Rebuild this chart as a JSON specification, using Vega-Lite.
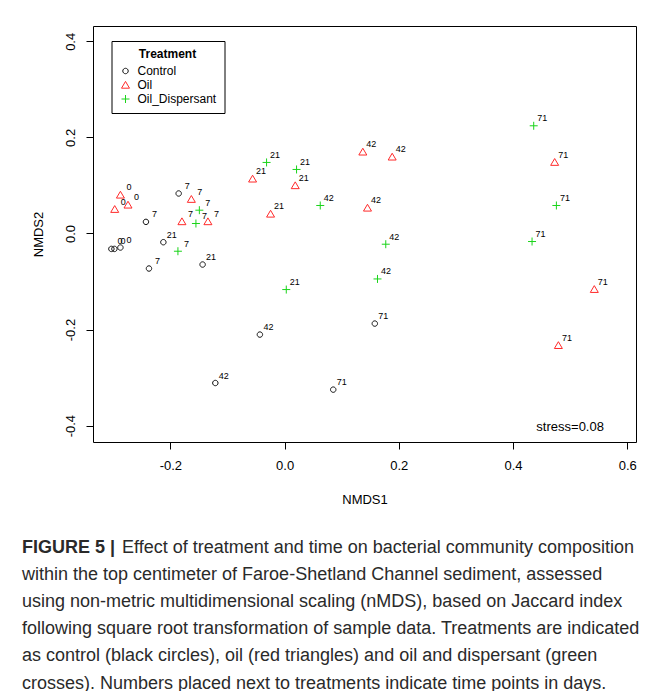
{
  "$schema": "https://vega.github.io/schema/vega-lite/v6.json",
  "width": 543,
  "height": 416,
  "autosize": {"type": "none"},
  "padding": {"left": 93, "top": 26, "right": 18, "bottom": 249},
  "background": "white",
  "config": {
    "view": {"stroke": "#000", "strokeWidth": 1},
    "font": "Liberation Sans",
    "axis": {
      "domain": false, "grid": false, "tickColor": "#000", "tickSize": 7, "tickWidth": 1,
      "labelColor": "#000", "labelFont": "Liberation Sans", "labelFontSize": 13,
      "titleColor": "#000", "titleFont": "Liberation Sans", "titleFontSize": 13, "titleFontWeight": "normal"
    }
  },
  "title": {
    "text": "FIGURE 5 |",
    "subtitle": [
      "\u200b\u00a0\u00a0\u00a0\u00a0\u00a0\u00a0\u00a0\u00a0\u00a0\u00a0\u00a0\u00a0\u00a0\u00a0\u00a0\u00a0\u00a0\u00a0\u00a0\u00a0Effect of treatment and time on bacterial community composition",
      "within the top centimeter of Faroe-Shetland Channel sediment, assessed",
      "using non-metric multidimensional scaling (nMDS), based on Jaccard index",
      "following square root transformation of sample data. Treatments are indicated",
      "as control (black circles), oil (red triangles) and oil and dispersant (green",
      "crosses). Numbers placed next to treatments indicate time points in days."
    ],
    "orient": "bottom",
    "anchor": "start",
    "frame": "group",
    "dx": -71,
    "offset": 33,
    "font": "Liberation Sans",
    "fontSize": 18,
    "fontWeight": "bold",
    "color": "#2a2a2a",
    "subtitleFont": "Liberation Sans",
    "subtitleFontSize": 18,
    "subtitleFontWeight": "normal",
    "subtitleColor": "#2a2a2a",
    "subtitleLineHeight": 27.1,
    "subtitlePadding": -18
  },
  "datasets": {
    "pts": [
      {"treatment": "Control", "day": "0", "NMDS1": -0.3032, "NMDS2": -0.0321},
      {"treatment": "Control", "day": "0", "NMDS1": -0.2979, "NMDS2": -0.0321},
      {"treatment": "Control", "day": "0", "NMDS1": -0.2874, "NMDS2": -0.0292},
      {"treatment": "Control", "day": "7", "NMDS1": -0.1854, "NMDS2": 0.0833},
      {"treatment": "Control", "day": "7", "NMDS1": -0.2427, "NMDS2": 0.0242},
      {"treatment": "Control", "day": "7", "NMDS1": -0.2374, "NMDS2": -0.0729},
      {"treatment": "Control", "day": "21", "NMDS1": -0.2122, "NMDS2": -0.0181},
      {"treatment": "Control", "day": "21", "NMDS1": -0.1435, "NMDS2": -0.0646},
      {"treatment": "Control", "day": "42", "NMDS1": -0.1212, "NMDS2": -0.3112},
      {"treatment": "Control", "day": "42", "NMDS1": -0.0432, "NMDS2": -0.2104},
      {"treatment": "Control", "day": "71", "NMDS1": 0.158, "NMDS2": -0.1875},
      {"treatment": "Control", "day": "71", "NMDS1": 0.0852, "NMDS2": -0.325},
      {"treatment": "Oil", "day": "0", "NMDS1": -0.2874, "NMDS2": 0.0804},
      {"treatment": "Oil", "day": "0", "NMDS1": -0.2974, "NMDS2": 0.0506},
      {"treatment": "Oil", "day": "0", "NMDS1": -0.2741, "NMDS2": 0.0596},
      {"treatment": "Oil", "day": "7", "NMDS1": -0.1632, "NMDS2": 0.0715},
      {"treatment": "Oil", "day": "7", "NMDS1": -0.1797, "NMDS2": 0.025},
      {"treatment": "Oil", "day": "7", "NMDS1": -0.1342, "NMDS2": 0.025},
      {"treatment": "Oil", "day": "21", "NMDS1": -0.056, "NMDS2": 0.1138},
      {"treatment": "Oil", "day": "21", "NMDS1": 0.0187, "NMDS2": 0.1},
      {"treatment": "Oil", "day": "21", "NMDS1": -0.0245, "NMDS2": 0.0408},
      {"treatment": "Oil", "day": "42", "NMDS1": 0.137, "NMDS2": 0.17},
      {"treatment": "Oil", "day": "42", "NMDS1": 0.1884, "NMDS2": 0.1596},
      {"treatment": "Oil", "day": "42", "NMDS1": 0.1452, "NMDS2": 0.0533},
      {"treatment": "Oil", "day": "71", "NMDS1": 0.4729, "NMDS2": 0.1485},
      {"treatment": "Oil", "day": "71", "NMDS1": 0.5423, "NMDS2": -0.116},
      {"treatment": "Oil", "day": "71", "NMDS1": 0.4794, "NMDS2": -0.2327},
      {"treatment": "Oil_Dispersant", "day": "7", "NMDS1": -0.1492, "NMDS2": 0.0485},
      {"treatment": "Oil_Dispersant", "day": "7", "NMDS1": -0.1552, "NMDS2": 0.0208},
      {"treatment": "Oil_Dispersant", "day": "7", "NMDS1": -0.1867, "NMDS2": -0.0369},
      {"treatment": "Oil_Dispersant", "day": "21", "NMDS1": -0.0315, "NMDS2": 0.1479},
      {"treatment": "Oil_Dispersant", "day": "21", "NMDS1": 0.021, "NMDS2": 0.1333},
      {"treatment": "Oil_Dispersant", "day": "21", "NMDS1": 0.003, "NMDS2": -0.1167},
      {"treatment": "Oil_Dispersant", "day": "42", "NMDS1": 0.0625, "NMDS2": 0.0583},
      {"treatment": "Oil_Dispersant", "day": "42", "NMDS1": 0.1772, "NMDS2": -0.0223},
      {"treatment": "Oil_Dispersant", "day": "42", "NMDS1": 0.1627, "NMDS2": -0.0946},
      {"treatment": "Oil_Dispersant", "day": "71", "NMDS1": 0.4362, "NMDS2": 0.2242},
      {"treatment": "Oil_Dispersant", "day": "71", "NMDS1": 0.4759, "NMDS2": 0.0583},
      {"treatment": "Oil_Dispersant", "day": "71", "NMDS1": 0.4333, "NMDS2": -0.0167}
    ],
    "note": [{"NMDS1": 0.5, "NMDS2": -0.403, "label": "stress=0.08"}]
  },
  "encoding": {
    "x": {
      "field": "NMDS1", "type": "quantitative", "title": "NMDS1",
      "scale": {"domain": [-0.3354, 0.6153], "nice": false, "zero": false},
      "axis": {"values": [-0.2, 0, 0.2, 0.4, 0.6], "labelExpr": "replace(format(datum.value, '.1f'), '\u2212', '-')", "labelPadding": 10, "titlePadding": 21}
    },
    "y": {
      "field": "NMDS2", "type": "quantitative", "title": "NMDS2",
      "scale": {"domain": [-0.434, 0.4319], "nice": false, "zero": false},
      "axis": {"values": [-0.4, -0.2, 0, 0.2, 0.4], "labelExpr": "replace(format(datum.value, '.1f'), '\u2212', '-')", "labelAngle": -90, "labelPadding": 9, "titlePadding": 19}
    }
  },
  "layer": [
    {
      "data": {"name": "pts"},
      "mark": {"type": "point", "filled": false, "size": 64, "strokeWidth": 1, "opacity": 1},
      "encoding": {
        "color": {
          "field": "treatment", "type": "nominal",
          "scale": {"domain": ["Control", "Oil", "Oil_Dispersant"], "range": ["#111111", "#ff2a2a", "#1ad41a"]},
          "legend": {
            "title": "Treatment", "orient": "none", "legendX": 18.5, "legendY": 15,
            "strokeColor": "#000", "fillColor": "#fff", "padding": 8,
            "titleFont": "Liberation Sans", "titleFontSize": 12, "titleFontWeight": "bold", "titleColor": "#000",
            "titleAnchor": "middle", "titlePadding": 4,
            "labelFont": "Liberation Sans", "labelFontSize": 12, "labelColor": "#000", "labelOffset": 6,
            "symbolSize": 64, "symbolStrokeWidth": 1, "rowPadding": 2
          }
        },
        "shape": {
          "field": "treatment", "type": "nominal",
          "scale": {"domain": ["Control", "Oil", "Oil_Dispersant"], "range": [
            "M0.68,0A0.68,0.68,0,1,1,-0.68,0A0.68,0.68,0,1,1,0.68,0Z",
            "M0,-0.9L1,0.8L-1,0.8Z",
            "M-1,0H1M0,-1V1"
          ]}
        }
      }
    },
    {
      "data": {"name": "pts"},
      "mark": {"type": "text", "dx": 8.5, "dy": -7.5, "align": "center", "baseline": "middle", "fontSize": 9, "font": "Liberation Sans", "color": "#000"},
      "encoding": {"text": {"field": "day", "type": "nominal"}}
    },
    {
      "data": {"name": "note"},
      "mark": {"type": "text", "align": "center", "baseline": "middle", "fontSize": 13, "font": "Liberation Sans", "color": "#000"},
      "encoding": {"text": {"field": "label", "type": "nominal"}}
    }
  ]
}
